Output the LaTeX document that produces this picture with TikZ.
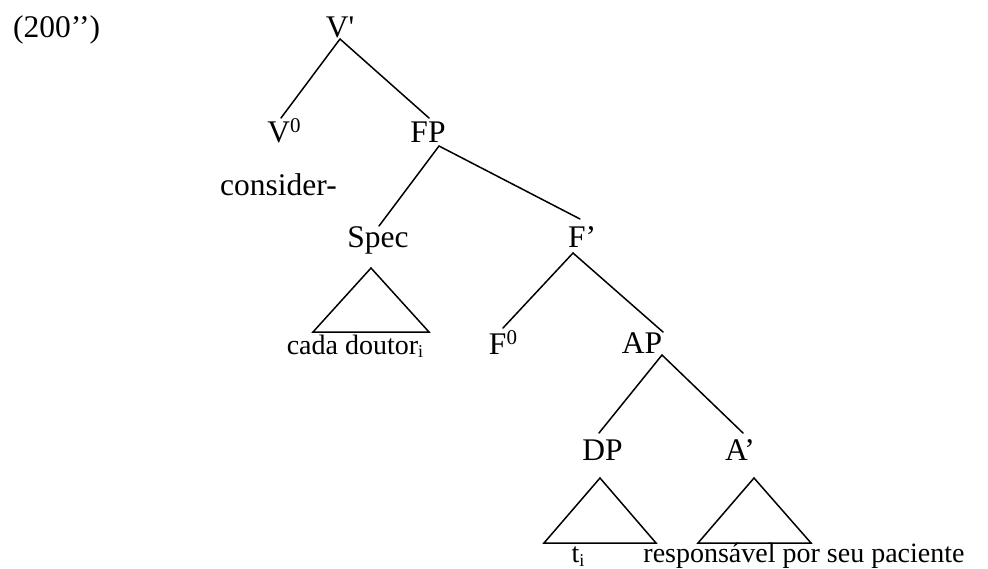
\documentclass[tikz,border=0pt]{standalone}
\usepackage{fontspec}
\setmainfont{Liberation Serif}
\newfontfamily\rawserif{Liberation Serif}
\usetikzlibrary{calc}
\newcommand{\supz}{\raisebox{10pt}{\fontsize{21}{21}\selectfont 0}}
\newcommand{\subi}{\raisebox{-3.5pt}{\fontsize{18}{18}\selectfont i}}
\begin{document}
\begin{tikzpicture}[x=1pt,y=-1pt,
  lab/.style={font=\fontsize{31.5}{36}\selectfont, inner sep=0pt, anchor=base},
  leaf/.style={font=\fontsize{28}{32}\selectfont, inner sep=0pt, anchor=base},
  edge/.style={line width=1.5pt, line cap=round},
  tri/.style={line width=1.5pt, line join=miter}]
\useasboundingbox (0,0) rectangle (988,568);
% labels
\node[lab, anchor=base west] (ex) at (13,37) {(200’’)};
\node[lab] (vp) at (340,37) {\rawserif V'};
\node[lab] (v0) at (284,142) {V\supz};
\node[lab] (fp) at (428,142) {FP};
\node[lab, anchor=base west] (cons) at (220,195) {consider-};
\node[lab] (spec) at (378,247) {Spec};
\node[lab] (fb) at (582,247) {F’};
\node[lab] (f0) at (503,354) {F\supz};
\node[lab] (ap) at (642,353) {AP};
\node[lab] (dp) at (602.5,460) {DP};
\node[lab] (ab) at (740,460) {A’};
\node[leaf] (cada) at (355,354) {cada doutor\subi};
\node[leaf] (ti) at (578,562.5) {t\subi};
\node[leaf] (resp) at (804,562.5) {responsável por seu paciente};
% branches
\draw[edge] ($(vp.base)+(0,2)$) -- ($(v0.base)+(-3,-24)$);
\draw[edge] ($(vp.base)+(0,2)$) -- ($(fp.base)+(1,-24)$);
\draw[edge] ($(fp.base)+(11,4)$) -- ($(spec.base)+(1,-21)$);
\draw[edge] ($(fp.base)+(11,4)$) -- ($(fb.base)+(-2,-28)$);
\draw[edge] ($(fb.base)+(-9,6)$) -- ($(f0.base)+(0,-26)$);
\draw[edge] ($(fb.base)+(-9,6)$) -- ($(ap.base)+(21,-21)$);
\draw[edge] ($(ap.base)+(20,2)$) -- ($(dp.base)+(-3.5,-27)$);
\draw[edge] ($(ap.base)+(20,2)$) -- ($(ab.base)+(3,-27)$);
% triangles
\draw[tri] ($(spec.base)+(-7,21)$) -- ($(spec.base)+(-65,85)$) -- ($(spec.base)+(51,85)$) -- cycle;
\draw[tri] ($(dp.base)+(-2.5,18)$) -- ($(dp.base)+(-58.5,83)$) -- ($(dp.base)+(53.5,83)$) -- cycle;
\draw[tri] ($(ab.base)+(14,18)$) -- ($(ab.base)+(-42,83)$) -- ($(ab.base)+(71,83)$) -- cycle;
\end{tikzpicture}
\end{document}
